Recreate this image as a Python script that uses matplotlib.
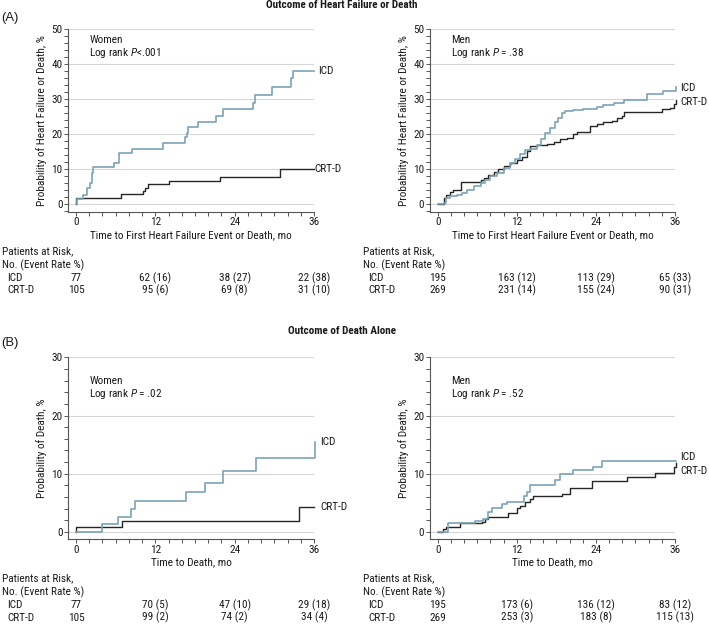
import matplotlib
matplotlib.use("Agg")
import matplotlib.pyplot as plt
from matplotlib import font_manager
from matplotlib.font_manager import FontProperties
from matplotlib.textpath import TextPath
from matplotlib.transforms import blended_transform_factory
from matplotlib.ticker import MultipleLocator

# ---------------- data ----------------
# Panel A: heart failure or death
a_women_icd_t = [0, 0.2, 1.1, 1.7, 2.1, 2.4, 2.6, 5.8, 6.5, 8.4, 13.2, 16.5, 16.8, 17.0, 18.4, 21.2, 22.3, 26.7, 27.1, 29.6, 32.5, 32.8, 36.0]
a_women_icd_y = [0, 1.3, 2.6, 4.6, 6.1, 8.8, 10.5, 11.8, 14.5, 15.8, 17.4, 19.3, 20.3, 21.9, 23.5, 25.1, 27.2, 28.8, 31.2, 33.6, 36.0, 38.2, 38.2]
a_women_crt_t = [0, 0, 6.8, 10.2, 10.5, 10.9, 14.1, 21.8, 30.8, 36.0]
a_women_crt_y = [0, 1.6, 2.8, 3.6, 4.7, 5.6, 6.6, 7.8, 10.0, 10.0]

a_men_icd_t = [0, 0.9, 1.3, 1.9, 2.9, 3.7, 4.4, 5.5, 6.5, 7.2, 8.0, 9.0, 10.0, 11.0, 11.8, 12.5, 13.3, 14.0, 15.1, 15.6, 16.3, 17.1, 17.8, 18.3, 18.8, 19.3, 20.6, 22.1, 24.1, 25.1, 26.7, 28.2, 31.7, 34.2, 36.2]
a_men_icd_y = [0, 0.3, 1.7, 2.2, 2.7, 3.2, 4.1, 5.1, 6.0, 7.0, 7.9, 8.9, 10.3, 11.8, 12.9, 14.2, 15.4, 15.8, 17.0, 18.5, 20.4, 21.8, 23.4, 24.7, 26.1, 26.6, 26.9, 27.3, 27.8, 28.2, 29.0, 29.7, 31.4, 32.3, 33.6]
a_men_crt_t = [0, 0.9, 1.3, 1.9, 2.4, 3.5, 6.5, 7.0, 7.7, 8.5, 9.2, 10.0, 11.0, 12.0, 12.8, 13.5, 14.0, 15.1, 16.6, 17.6, 18.6, 19.6, 20.6, 21.1, 23.1, 24.1, 25.1, 26.4, 27.2, 27.9, 28.2, 34.0, 35.3, 35.8, 36.2]
a_men_crt_y = [0, 1.7, 2.7, 3.3, 4.1, 6.3, 7.0, 7.5, 8.4, 9.1, 10.0, 10.8, 11.8, 12.7, 13.5, 15.1, 16.6, 17.0, 17.2, 17.7, 18.5, 18.9, 19.9, 20.6, 22.3, 22.8, 23.4, 23.7, 24.7, 25.2, 26.4, 27.1, 27.6, 28.5, 29.8]

# Panel B: death alone
b_women_icd_t = [0, 3.9, 6.4, 8.3, 8.9, 16.6, 19.5, 22.2, 27.3, 36.2]
b_women_icd_y = [0, 1.4, 2.6, 3.95, 5.3, 6.9, 8.5, 10.5, 12.7, 15.5]
b_women_crt_t = [0, 0, 6.9, 33.7, 36.0]
b_women_crt_y = [0, 0.9, 1.9, 4.35, 4.35]

b_men_icd_t = [0, 1.5, 5.6, 6.9, 7.6, 8.2, 9.8, 10.5, 13.1, 13.5, 14.0, 17.8, 18.5, 20.5, 23.5, 25.0, 36.2]
b_men_icd_y = [0, 1.5, 1.9, 2.2, 3.4, 4.2, 4.8, 5.2, 6.1, 6.8, 8.1, 8.9, 10.0, 10.7, 11.2, 12.2, 12.2]
b_men_crt_t = [0, 0.8, 1.2, 3.4, 6.7, 7.2, 7.6, 10.6, 12.0, 12.5, 13.3, 14.0, 14.5, 18.8, 20.1, 23.4, 28.7, 33.0, 35.9, 36.2]
b_men_crt_y = [0, 0.5, 0.8, 1.5, 1.8, 2.2, 2.6, 3.3, 4.1, 4.5, 5.1, 5.7, 6.2, 6.6, 7.5, 8.8, 9.5, 10.2, 11.2, 11.8]

# Numbers at risk (event rate %) at 0, 12, 24, 36 months
risk_times = [0, 12, 24, 36]
a_women_icd_n = [77, 62, 38, 22]; a_women_icd_r = [None, 16, 27, 38]
a_women_crt_n = [105, 95, 69, 31]; a_women_crt_r = [None, 6, 8, 10]
a_men_icd_n = [195, 163, 113, 65]; a_men_icd_r = [None, 12, 29, 33]
a_men_crt_n = [269, 231, 155, 90]; a_men_crt_r = [None, 14, 24, 31]
b_women_icd_n = [77, 70, 47, 29]; b_women_icd_r = [None, 5, 10, 18]
b_women_crt_n = [105, 99, 74, 34]; b_women_crt_r = [None, 2, 2, 4]
b_men_icd_n = [195, 173, 136, 83]; b_men_icd_r = [None, 6, 12, 12]
b_men_crt_n = [269, 253, 183, 115]; b_men_crt_r = [None, 3, 8, 13]

groups = ["ICD", "CRT-D"]
pvals = ["Log rank $P$<.001", "Log rank $P$ = .38", "Log rank $P$ = .02", "Log rank $P$ = .52"]
sexes = ["Women", "Men", "Women", "Men"]
xlabel_a = "Time to First Heart Failure Event or Death, mo"
title_a = "Outcome of Heart Failure or Death"

# ---------------- font choice: match reference text width and cap height ----------------
names = {f.name for f in font_manager.fontManager.ttflist}
PX = 100 / 72.0

def ext(font, s, weight="normal"):
    return TextPath((0, 0), s, size=10, prop=FontProperties(family=font, weight=weight)).get_extents()

best = None
for cand in ["Liberation Sans Narrow", "Roboto Condensed", "Roboto", "Liberation Sans",
             "Open Sans", "Lato", "Noto Sans", "Inter"]:
    if cand not in names:
        continue
    w10 = ext(cand, xlabel_a).width * PX
    fs = 10 * 201.0 / w10
    cap = ext(cand, "H").height * PX * fs / 10
    score = abs(cap - 7.6)
    if best is None or score < best[0]:
        best = (score, cand, fs)
main_font, FS = best[1], best[2]
FS = min(max(FS, 6.5), 8.6)
tw10 = ext(main_font, title_a, "bold").width * PX
TFS = min(max(10 * 151.0 / tw10, 6.0), 8.5)

plt.rcParams["font.family"] = [main_font, "DejaVu Sans"]
plt.rcParams["mathtext.fontset"] = "custom"
plt.rcParams["mathtext.rm"] = main_font
plt.rcParams["mathtext.it"] = main_font + ":italic"

ICD_C = "#7aa3b6"
CRT_C = "#262626"
AX_C = "#555555"
TXT_C = "#1a1a1a"

W, H = 709, 624
fig = plt.figure(figsize=(W / 100, H / 100), dpi=100)

def fx(px):
    return px / W

def fy(py):
    return 1 - py / H

def make_axes(x0, x1, y0, y1):
    return fig.add_axes([fx(x0), fy(y1), fx(x1) - fx(x0), (y1 - y0) / H])

panels = [
    dict(ax=make_axes(68.3, 314, 29.3, 211.7), ylim=(-2.2, 50), ymax=50,
         ylabel="Probability of Heart Failure or Death, %", xlabel=xlabel_a,
         icd=(a_women_icd_t, a_women_icd_y), crt=(a_women_crt_t, a_women_crt_y),
         lab_x=(36.6, 36.1), lab_y=(38.2, 10.0), txt_y=(46.8, 43.3),
         risk=((a_women_icd_n, a_women_icd_r), (a_women_crt_n, a_women_crt_r)),
         table_x=2, row_y=(251.7, 265.7, 278.3, 290.3)),
    dict(ax=make_axes(430, 675, 29.3, 211.7), ylim=(-2.2, 50), ymax=50,
         ylabel="Probability of Heart Failure or Death, %", xlabel=xlabel_a,
         icd=(a_men_icd_t, a_men_icd_y), crt=(a_men_crt_t, a_men_crt_y),
         lab_x=(36.8, 36.8), lab_y=(33.2, 29.3), txt_y=(46.8, 43.3),
         risk=((a_men_icd_n, a_men_icd_r), (a_men_crt_n, a_men_crt_r)),
         table_x=362.7, row_y=(251.7, 265.7, 278.3, 290.3)),
    dict(ax=make_axes(68.3, 314, 357.3, 539.3), ylim=(-1.25, 30), ymax=30,
         ylabel="Probability of Death, %", xlabel="Time to Death, mo",
         icd=(b_women_icd_t, b_women_icd_y), crt=(b_women_crt_t, b_women_crt_y),
         lab_x=(36.9, 36.9), lab_y=(15.5, 4.3), txt_y=(25.9, 23.7),
         risk=((b_women_icd_n, b_women_icd_r), (b_women_crt_n, b_women_crt_r)),
         table_x=2, row_y=(578.7, 592.0, 605.0, 617.7)),
    dict(ax=make_axes(430, 675, 357.3, 539.3), ylim=(-1.25, 30), ymax=30,
         ylabel="Probability of Death, %", xlabel="Time to Death, mo",
         icd=(b_men_icd_t, b_men_icd_y), crt=(b_men_crt_t, b_men_crt_y),
         lab_x=(36.8, 36.8), lab_y=(12.8, 10.5), txt_y=(25.9, 23.7),
         risk=((b_men_icd_n, b_men_icd_r), (b_men_crt_n, b_men_crt_r)),
         table_x=362.7, row_y=(578.7, 592.0, 605.0, 617.7)),
]

for i, p in enumerate(panels):
    ax = p["ax"]
    ax.set_xlim(-1.16, 36)
    ax.set_ylim(*p["ylim"])
    for s in ["top", "right"]:
        ax.spines[s].set_visible(False)
    for s in ["left", "bottom"]:
        ax.spines[s].set_color(AX_C)
        ax.spines[s].set_linewidth(0.8)
    ax.xaxis.set_major_locator(MultipleLocator(12))
    ax.xaxis.set_minor_locator(MultipleLocator(2))
    ax.yaxis.set_major_locator(MultipleLocator(10))
    ax.yaxis.set_minor_locator(MultipleLocator(2))
    ax.tick_params(which="both", direction="out", length=2.6, width=0.7,
                   color=AX_C, labelsize=FS, labelcolor=TXT_C, pad=1.5)
    ax.set_xticks([0, 12, 24, 36])
    ax.set_yticks(list(range(0, p["ymax"] + 1, 10)))
    ax.grid(axis="y", which="major", color="#d6d6d6", lw=0.8)
    ax.set_axisbelow(True)

    ax.set_ylabel(p["ylabel"], fontsize=FS, color=TXT_C)
    ax.yaxis.set_label_coords(-26.5 / 245.7, 0.5)
    ax.yaxis.label.set_va("center")
    ax.set_xlabel(p["xlabel"], fontsize=FS, color=TXT_C)
    ax.xaxis.set_label_coords(0.5, -23.3 / 182.4)
    ax.xaxis.label.set_va("center")

    ax.step(*p["crt"], where="post", color=CRT_C, lw=1.0, clip_on=False, zorder=3)
    ax.step(*p["icd"], where="post", color=ICD_C, lw=1.2, clip_on=False, zorder=3)
    for g, lx, ly in zip(groups, p["lab_x"], p["lab_y"]):
        ax.text(lx, ly, g, fontsize=FS, color=TXT_C, ha="left", va="center", clip_on=False)

    ax.text(2.0, p["txt_y"][0], sexes[i], fontsize=FS, color=TXT_C, ha="left", va="center")
    ax.text(2.0, p["txt_y"][1], pvals[i], fontsize=FS, color=TXT_C, ha="left", va="center")

    # risk table
    tx = p["table_x"]
    ry = p["row_y"]
    fig.text(fx(tx), fy(ry[0]), "Patients at Risk,", fontsize=FS, color=TXT_C, ha="left", va="center")
    fig.text(fx(tx), fy(ry[1]), "No. (Event Rate %)", fontsize=FS, color=TXT_C, ha="left", va="center")
    trans = blended_transform_factory(ax.transData, fig.transFigure)
    for g, (nums, rates), yrow in zip(groups, p["risk"], ry[2:]):
        fig.text(fx(tx + 5.5), fy(yrow), g, fontsize=FS, color=TXT_C, ha="left", va="center")
        for t, n, r in zip(risk_times, nums, rates):
            s = f"{n}" if r is None else f"{n} ({r})"
            ax.text(t, fy(yrow), s, transform=trans, fontsize=FS, color=TXT_C,
                    ha="center", va="center", clip_on=False)

fig.text(fx(341.5), fy(5.5), title_a, fontsize=TFS,
         fontweight="bold", color=TXT_C, ha="center", va="center")
fig.text(fx(341.5), fy(331), "Outcome of Death Alone", fontsize=TFS,
         fontweight="bold", color=TXT_C, ha="center", va="center")
fig.text(fx(1.5), fy(17.8), "(A)", fontsize=9.4, color=TXT_C, ha="left", va="center",
         family=["Liberation Sans", "DejaVu Sans"])
fig.text(fx(1.5), fy(343.3), "(B)", fontsize=9.4, color=TXT_C, ha="left", va="center",
         family=["Liberation Sans", "DejaVu Sans"])

fig.savefig("out.png", dpi=100, facecolor="white")
